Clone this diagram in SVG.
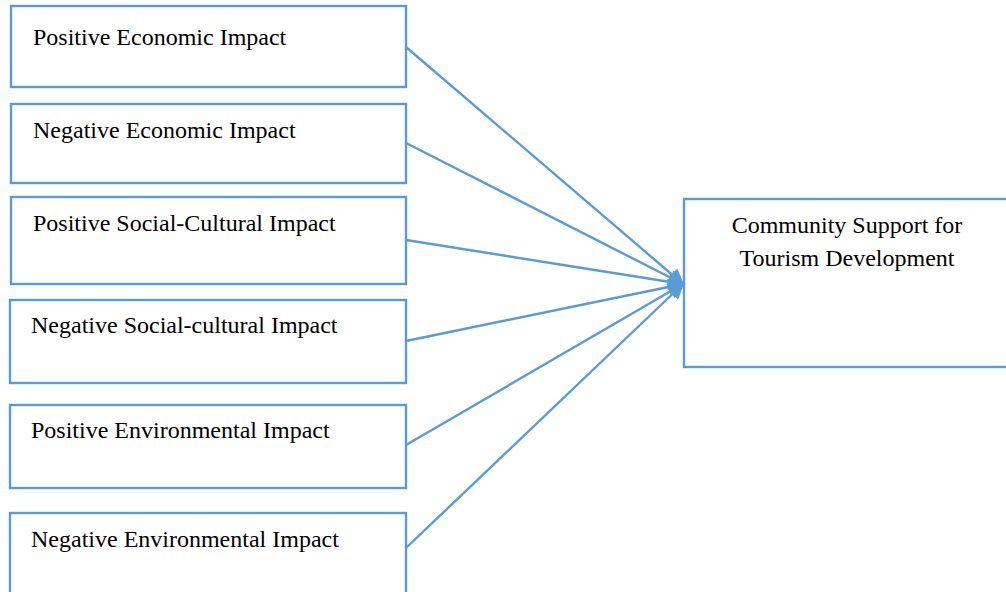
<svg xmlns="http://www.w3.org/2000/svg" width="1006" height="592" viewBox="0 0 1006 592">
<style>
.box{fill:#fff;stroke:#5B9BD5;stroke-width:2.4}
.lbl{font-family:"Liberation Serif","Times New Roman",serif;font-size:24px;fill:#000}
.con{stroke:#5B9BD5;stroke-width:2.4;fill:none;marker-end:url(#ah)}
</style>
<defs>
<marker id="ah" viewBox="0 0 10 10" refX="9" refY="5" markerUnits="userSpaceOnUse" markerWidth="18" markerHeight="16" orient="auto">
<path d="M0,0 L10,5 L0,10 Z" fill="#5B9BD5"/>
</marker>
</defs>
<rect width="1006" height="592" fill="#fff"/>
<g id="connectors">
<line class="con" x1="406" y1="47" x2="683" y2="284"/>
<line class="con" x1="406" y1="143" x2="683" y2="284"/>
<line class="con" x1="406" y1="240" x2="683" y2="284"/>
<line class="con" x1="406" y1="341" x2="683" y2="284"/>
<line class="con" x1="406" y1="445" x2="683" y2="284"/>
<line class="con" x1="406" y1="548" x2="683" y2="284"/>
</g>
<g id="n1"><rect class="box" x="11" y="6" width="395" height="81"/><text class="lbl" x="33" y="45">Positive Economic Impact</text></g>
<g id="n2"><rect class="box" x="11" y="104" width="395" height="79"/><text class="lbl" x="33" y="138">Negative Economic Impact</text></g>
<g id="n3"><rect class="box" x="11" y="197" width="395" height="87"/><text class="lbl" x="33" y="231">Positive Social-Cultural Impact</text></g>
<g id="n4"><rect class="box" x="10" y="300" width="396" height="83"/><text class="lbl" x="31" y="333">Negative Social-cultural Impact</text></g>
<g id="n5"><rect class="box" x="10" y="405" width="396" height="83"/><text class="lbl" x="31" y="438">Positive Environmental Impact</text></g>
<g id="n6"><rect class="box" x="10" y="513" width="396" height="90"/><text class="lbl" x="31" y="547">Negative Environmental Impact</text></g>
<g id="target"><rect class="box" x="684" y="199" width="330" height="168"/><text class="lbl" x="847" y="233" text-anchor="middle">Community Support for</text><text class="lbl" x="847" y="266" text-anchor="middle">Tourism Development</text></g>
</svg>
